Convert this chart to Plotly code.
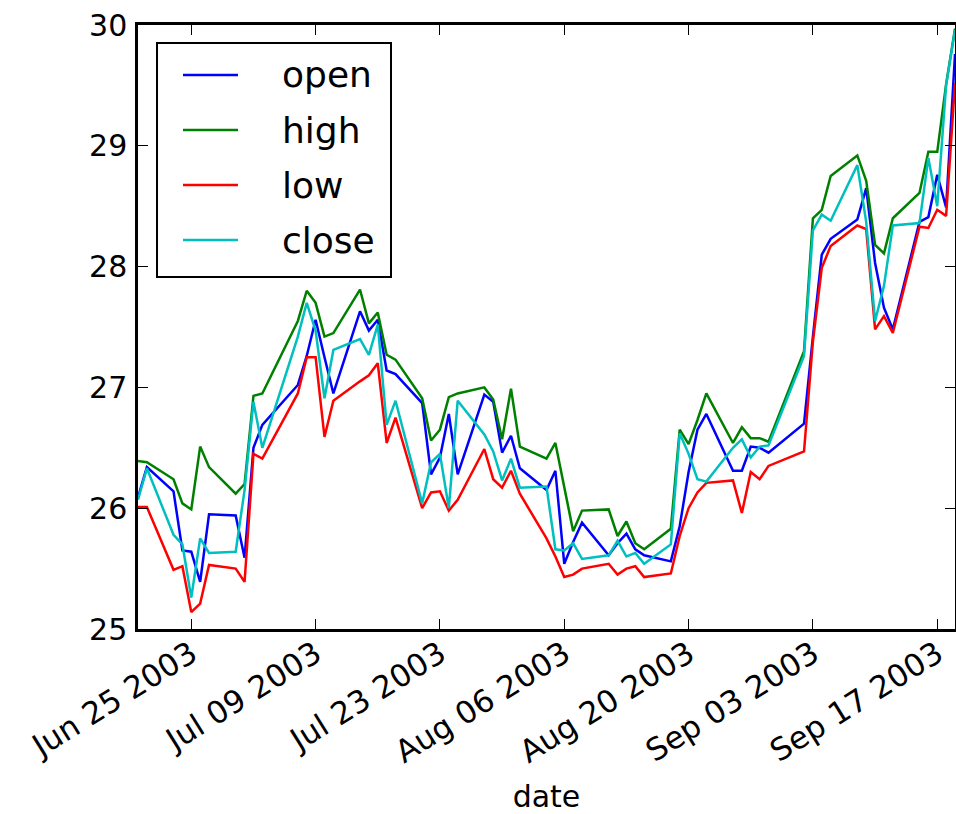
import plotly.graph_objects as go

# MSFT daily quotes, Jun 19 - Sep 19 2003
dates = [
    "2003-06-19", "2003-06-20", "2003-06-23", "2003-06-24", "2003-06-25", "2003-06-26",
    "2003-06-27", "2003-06-30", "2003-07-01", "2003-07-02", "2003-07-03", "2003-07-07",
    "2003-07-08", "2003-07-09", "2003-07-10", "2003-07-11", "2003-07-14", "2003-07-15",
    "2003-07-16", "2003-07-17", "2003-07-18", "2003-07-21", "2003-07-22", "2003-07-23",
    "2003-07-24", "2003-07-25", "2003-07-28", "2003-07-29", "2003-07-30", "2003-07-31",
    "2003-08-01", "2003-08-04", "2003-08-05", "2003-08-06", "2003-08-07", "2003-08-08",
    "2003-08-11", "2003-08-12", "2003-08-13", "2003-08-14", "2003-08-15", "2003-08-18",
    "2003-08-19", "2003-08-20", "2003-08-21", "2003-08-22", "2003-08-25", "2003-08-26",
    "2003-08-27", "2003-08-28", "2003-08-29", "2003-09-02", "2003-09-03", "2003-09-04",
    "2003-09-05", "2003-09-08", "2003-09-09", "2003-09-10", "2003-09-11", "2003-09-12",
    "2003-09-15", "2003-09-16", "2003-09-17", "2003-09-18", "2003-09-19",
]
open_ = [
    26.09, 26.34, 26.14, 25.65, 25.64, 25.39, 25.95, 25.94, 25.59, 26.50, 26.69, 27.02,
    27.26, 27.56, 27.25, 26.95, 27.63, 27.47, 27.56, 27.14, 27.11, 26.87, 26.28, 26.42,
    26.78, 26.28, 26.94, 26.88, 26.46, 26.60, 26.33, 26.15, 26.31, 25.54, 25.72, 25.88,
    25.61, 25.71, 25.79, 25.66, 25.61, 25.56, 25.85, 26.30, 26.65, 26.78, 26.31, 26.31,
    26.51, 26.50, 26.46, 26.70, 27.42, 28.10, 28.23, 28.39, 28.65, 28.03, 27.66, 27.48,
    28.37, 28.41, 28.76, 28.49, 29.76,
]
high = [
    26.39, 26.38, 26.24, 26.04, 25.99, 26.51, 26.34, 26.12, 26.20, 26.93, 26.95, 27.55,
    27.80, 27.70, 27.42, 27.45, 27.81, 27.53, 27.62, 27.27, 27.23, 26.91, 26.56, 26.65,
    26.92, 26.95, 27.00, 26.90, 26.57, 26.99, 26.51, 26.41, 26.54, 26.19, 25.81, 25.98,
    25.99, 25.77, 25.89, 25.71, 25.66, 25.83, 26.65, 26.53, 26.73, 26.95, 26.54, 26.67,
    26.58, 26.58, 26.55, 27.30, 28.40, 28.47, 28.75, 28.92, 28.71, 28.18, 28.11, 28.40,
    28.61, 28.95, 28.95, 29.51, 29.97,
]
low = [
    26.01, 26.01, 25.49, 25.52, 25.14, 25.21, 25.53, 25.50, 25.39, 26.45, 26.41, 26.95,
    27.25, 27.25, 26.59, 26.89, 27.05, 27.10, 27.20, 26.54, 26.75, 26.00, 26.13, 26.14,
    25.98, 26.07, 26.49, 26.24, 26.17, 26.31, 26.12, 25.75, 25.60, 25.43, 25.45, 25.50,
    25.54, 25.45, 25.50, 25.52, 25.43, 25.46, 25.77, 26.00, 26.13, 26.21, 26.23, 25.96,
    26.30, 26.24, 26.35, 26.47, 27.38, 27.99, 28.17, 28.34, 28.31, 27.48, 27.59, 27.45,
    28.33, 28.32, 28.47, 28.42, 29.52,
]
close = [
    26.07, 26.33, 25.78, 25.70, 25.26, 25.75, 25.63, 25.64, 26.15, 26.88, 26.50, 27.42,
    27.70, 27.47, 26.91, 27.31, 27.40, 27.27, 27.52, 26.69, 26.89, 26.04, 26.38, 26.45,
    26.00, 26.89, 26.61, 26.47, 26.23, 26.41, 26.17, 26.18, 25.66, 25.65, 25.71, 25.58,
    25.61, 25.73, 25.60, 25.63, 25.54, 25.70, 26.62, 26.45, 26.24, 26.22, 26.50, 26.57,
    26.42, 26.51, 26.52, 27.26, 28.30, 28.43, 28.38, 28.84, 28.37, 27.55, 27.84, 28.34,
    28.36, 28.90, 28.50, 29.50, 29.96,
]

names = ["open", "high", "low", "close"]
colors = ["#0000ff", "#008000", "#ff0000", "#00bfbf"]
series = [open_, high, low, close]

tick_dates = ["2003-06-25", "2003-07-09", "2003-07-23", "2003-08-06",
              "2003-08-20", "2003-09-03", "2003-09-17"]
tick_text = ["Jun 25 2003", "Jul 09 2003", "Jul 23 2003", "Aug 06 2003",
             "Aug 20 2003", "Sep 03 2003", "Sep 17 2003"]

FONT = "DejaVu Sans"
W, H = 956, 814
L, R, T, B = 138, 955, 25, 629  # plot area in pixels

fig = go.Figure()
for name, color, ys in zip(names, colors, series):
    fig.add_trace(go.Scatter(x=dates, y=ys, name=name, mode="lines",
                             line=dict(color=color, width=2.5), showlegend=False))

axis_common = dict(
    showline=True, linecolor="black", linewidth=2.5, mirror="allticks",
    ticks="inside", ticklen=10, tickwidth=1.2, tickcolor="black",
    showgrid=False, zeroline=False,
)

fig.update_xaxes(
    type="date", range=[dates[0], dates[-1]],
    tickvals=tick_dates, ticktext=tick_text, tickangle=-32,
    tickfont=dict(family=FONT, size=31, color="black"),
    ticklabelstandoff=-8,
    title=dict(text="date", font=dict(family=FONT, size=30, color="black"), standoff=18),
    **axis_common,
)
fig.update_yaxes(range=[25, 30], dtick=1, ticklabelstandoff=2,
                 tickfont=dict(family=FONT, size=30, color="black"), **axis_common)

# matplotlib-style legend box drawn in paper coordinates
def px(x):
    return (x - L) / (R - L)

def py(y):
    return (B - y) / (B - T)

shapes = [dict(type="rect", xref="paper", yref="paper",
               x0=px(157), x1=px(391), y0=py(277), y1=py(43),
               line=dict(color="black", width=2), fillcolor="white", layer="above")]
annotations = []
for i, (name, color) in enumerate(zip(names, colors)):
    yrow = 75 + 55 * i
    shapes.append(dict(type="line", xref="paper", yref="paper",
                       x0=px(183), x1=px(238), y0=py(yrow), y1=py(yrow),
                       line=dict(color=color, width=2.5), layer="above"))
    annotations.append(dict(text=name, xref="paper", yref="paper",
                            x=px(280), y=py(yrow), xanchor="left", yanchor="middle",
                            showarrow=False,
                            font=dict(family=FONT, size=36, color="black")))

fig.update_layout(
    width=W, height=H,
    margin=dict(l=L, r=W - R, t=T, b=H - B, autoexpand=False),
    paper_bgcolor="white", plot_bgcolor="white",
    shapes=shapes, annotations=annotations,
    font=dict(family=FONT),
)

# drop the page's default body margin so the figure sits at the window origin
fig.write_html("out.html", config={"displayModeBar": False},
               post_script="document.body.style.margin='0';"
                           "document.body.style.overflow='hidden';")
